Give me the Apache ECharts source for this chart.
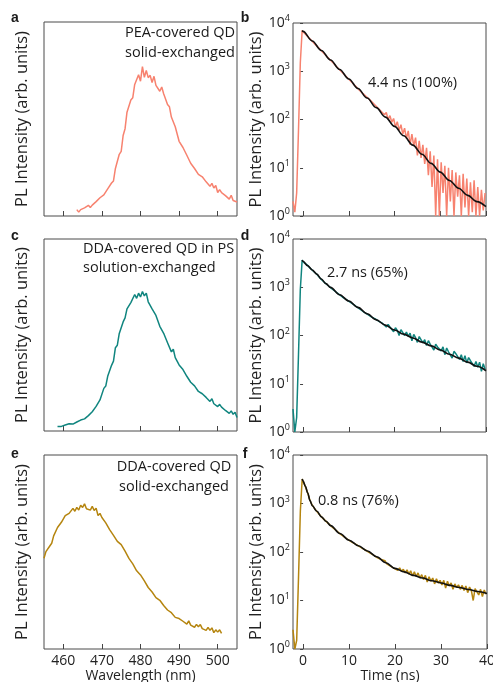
<!DOCTYPE html>
<html><head><meta charset="utf-8">
<script src="https://cdn.jsdelivr.net/npm/echarts@6/dist/echarts.min.js"></script>
<style>html,body{margin:0;padding:0;background:#fff}#c{width:493px;height:682px}</style>
</head><body><div id="c"></div>
<script>
// ---------- DATA ----------
const wavelength = [
455,455.5,456,456.5,457,457.5,458,458.5,459,459.5,
460,460.5,461,461.5,462,462.5,463,463.5,464,464.5,
465,465.5,466,466.5,467,467.5,468,468.5,469,469.5,
470,470.5,471,471.5,472,472.5,473,473.5,474,474.5,
475,475.5,476,476.5,477,477.5,478,478.5,479,479.5,
480,480.5,481,481.5,482,482.5,483,483.5,484,484.5,
485,485.5,486,486.5,487,487.5,488,488.5,489,489.5,
490,490.5,491,491.5,492,492.5,493,493.5,494,494.5,
495,495.5,496,496.5,497,497.5,498,498.5,499,499.5,
500,500.5,501,501.5,502,502.5,503,503.5,504,504.5,
505];
const spectrumA = [
null,null,null,null,null,null,null,null,null,null,
null,null,null,null,null,null,null,0.033,0.020,0.033,
0.024,0.042,0.038,0.055,0.044,0.056,0.052,0.074,0.071,0.094,
0.085,0.109,0.115,0.140,0.145,0.170,0.181,0.245,0.248,0.318,
0.333,0.415,0.450,0.535,0.540,0.598,0.610,0.678,0.680,0.728,
0.695,0.770,0.715,0.750,0.713,0.725,0.688,0.720,0.673,0.683,
0.643,0.665,0.630,0.640,0.575,0.563,0.510,0.518,0.460,0.463,
0.385,0.395,0.353,0.352,0.313,0.303,0.272,0.282,0.245,0.245,
0.215,0.224,0.202,0.210,0.176,0.177,0.153,0.168,0.144,0.157,
0.121,0.136,0.120,0.130,0.105,0.109,0.087,0.107,0.080,0.090,
0.072];
const spectrumC = [
null,null,null,null,null,null,null,0.024,0.014,0.024,
0.017,0.031,0.026,0.038,0.028,0.036,0.032,0.047,0.042,0.057,
0.047,0.063,0.063,0.080,0.081,0.100,0.103,0.128,0.132,0.162,
0.167,0.222,0.234,0.285,0.288,0.342,0.364,0.434,0.447,0.508,
0.505,0.568,0.589,0.636,0.635,0.669,0.662,0.711,0.691,0.718,
0.698,0.726,0.704,0.718,0.673,0.672,0.636,0.646,0.602,0.606,
0.545,0.548,0.509,0.508,0.460,0.454,0.412,0.426,0.382,0.376,
0.344,0.345,0.320,0.318,0.285,0.279,0.254,0.260,0.235,0.240,
0.206,0.213,0.194,0.200,0.175,0.175,0.154,0.168,0.142,0.148,
0.127,0.139,0.124,0.132,0.107,0.109,0.092,0.105,0.087,0.098,
0.070];
const spectrumE = [
0.468,0.502,0.503,0.531,0.545,0.583,0.590,0.626,0.620,0.653,
0.658,0.687,0.679,0.699,0.692,0.725,0.710,0.730,0.716,0.741,
0.730,0.748,0.723,0.732,0.716,0.735,0.714,0.726,0.688,0.699,
0.678,0.682,0.650,0.646,0.615,0.624,0.586,0.587,0.555,0.564,
0.538,0.539,0.504,0.495,0.467,0.468,0.439,0.441,0.403,0.405,
0.382,0.382,0.351,0.344,0.317,0.325,0.294,0.293,0.265,0.271,
0.251,0.254,0.224,0.222,0.201,0.209,0.187,0.194,0.163,0.173,
0.157,0.165,0.143,0.146,0.128,0.145,0.123,0.131,0.112,0.127,
0.115,0.126,0.105,0.110,0.096,0.112,0.096,0.109,0.084,0.099,
0.087,0.099,0.081,null,null,null,null,null,null,null,
null];

const decayTime = [
-2.2,-1.8,-1.4,-1.0,-0.6,-0.2,0.2,0.6,1.0,1.4,
1.8,2.2,2.6,3.0,3.4,3.8,4.2,4.6,5.0,5.4,
5.8,6.2,6.6,7.0,7.4,7.8,8.2,8.6,9.0,9.4,
9.8,10.2,10.6,11.0,11.4,11.8,12.2,12.6,13.0,13.4,
13.8,14.2,14.6,15.0,15.4,15.8,16.2,16.6,17.0,17.4,
17.8,18.2,18.6,19.0,19.4,19.8,20.2,20.6,21.0,21.4,
21.8,22.2,22.6,23.0,23.4,23.8,24.2,24.6,25.0,25.4,
25.8,26.2,26.6,27.0,27.4,27.8,28.2,28.6,29.0,29.4,
29.8,30.2,30.6,31.0,31.4,31.8,32.2,32.6,33.0,33.4,
33.8,34.2,34.6,35.0,35.4,35.8,36.2,36.6,37.0,37.4,
37.8,38.2,38.6,39.0,39.4,39.8];
const decayB = [
2,1.2,3,60,1500,7000,6300,5900,5250,4900,
4400,4100,3650,3420,3050,2850,2540,2380,2120,1990,
1770,1660,1480,1390,1230,1160,1025,965,860,805,
715,675,598,565,500,470,415,395,352,330,
300,278,255,245,215,205,180,176,150,148,
125,140,100,120,88,105,70,90,60,78,
50,66,40,58,30,50,28,42,18,36,
16,30,12,26,7,22,4,18,1,15,
1,13,3,11,1,10,2,9,1,8,
2.5,7,1,7.5,1.5,6,1,5,1.2,5.5,
1,4,1,3.5,1.3,3];
const decayD = [
3,1,2,40,900,3650,3250,3000,2830,2560,
2400,2170,2040,1860,1700,1510,1410,1280,1200,1100,
1040,950,905,825,785,718,690,628,610,560,
545,495,480,440,428,388,378,342,334,300,
305,270,280,240,255,220,228,196,205,178,
185,150,170,150,160,120,145,128,100,132,
125,100,118,96,112,78,105,90,72,95,
88,70,82,62,78,66,72,50,66,58,
62,48,58,40,55,46,50,34,47,42,
42,32,40,29,38,27,35,30,33,23,
29,22,28,18,26,20];
const decayF = [
2.5,1,1.5,30,700,3200,2600,2100,1650,1240,
990,860,760,695,615,562,505,470,428,398,
362,340,310,292,267,251,230,220,203,194,
179,172,160,155,145,140,130,127,117,115,
106,103,95,93,85,83,76,75,70,66,
66,57,60,51,55,46,50,42,47,40,
44,37,43,35,41,32,39,31,37,29,
34,27,33,24,31,25,29,22,28,23,
26,21,26,18,25,20,23,17,22,18.5,
21,17,20.5,16,20,14.5,19,16,10,17.5,
17.5,13,17,12,16.5,13.5];

const fitTimeB = [-0.2,0,2,4,6,8,10,12,14,16,18,20,22,24,26,28,30,32,34,36,38,40];
const fitB = [7000,6690,4247,2696,1711,1086,690,438,278,176,112,71.9,45.9,29.5,19.0,12.3,8.13,5.46,3.76,2.68,1.99,1.56];
const fitTimeD = [-0.2,0,1,2,3,4,5,6,8,10,12,14,16,18,20,22,24,26,28,30,32,34,36,38,40];
const fitD = [3650,3450,2800,2280,1870,1480,1190,995,700,519,383,282,211,164,130,107,89,73,61,50,41,34,28,23,18.6];
const fitTimeF = [-0.2,0,0.5,1,1.5,2,3,4,5,6,8,10,12,14,16,18,20,22,24,26,28,30,32,34,36,38,40];
const fitF = [3200,2900,2250,1650,1150,900,690,530,430,350,240,175,135,105,80,60,46,39,33,29,25.5,23,20.5,18.5,16.8,15.3,14];

const wavelengthTicks = [460,470,480,490,500];
const timeTicks = [0,10,20,30,40];
const yAxisTitle = 'PL Intensity (arb. units)';
const panelLetters = ['a','b','c','d','e','f'];
const spectrumNotes = [['PEA-covered QD','solid-exchanged'],['DDA-covered QD in PS','solution-exchanged'],['DDA-covered QD','solid-exchanged']];
const lifetimeNotes = ['4.4 ns (100%)','2.7 ns (65%)','0.8 ns (76%)'];

// ---------- CHART ----------
const FONT = "'Open Sans', sans-serif";
const COLORS = ['#F7826F', '#10857F', '#B5850F'];
const zip = (xs, ys) => xs.map((x, i) => [x, ys[i]]).filter(p => p[1] !== null && p[1] !== undefined);

const grids = [
  {left:44, top:22, width:193, height:194},
  {left:293, top:23, width:193, height:193},
  {left:44, top:239, width:193, height:192},
  {left:293, top:239, width:193, height:193},
  {left:44, top:455, width:193, height:194},
  {left:293, top:455, width:194, height:194}
].map(g => Object.assign(g, {show:true, borderColor:'#4a4a4a', borderWidth:1, backgroundColor:'rgba(0,0,0,0)', containLabel:false, outerBoundsMode:'none'}));

const xAxis = [], yAxis = [], series = [];
for (let i = 0; i < 6; i++) {
  const left = i % 2 === 0;
  const bottom = i >= 4;
  const ticks = left ? wavelengthTicks : timeTicks;
  xAxis.push({
    gridIndex:i, type:'value',
    min: left ? 455 : -2.2, max: left ? 505 : 40,
    axisLine:{show:false},
    axisTick:{show:true, inside:true, length:5, customValues:ticks, lineStyle:{color:'#444', width:1}},
    axisLabel:{show:bottom, customValues:ticks, fontFamily:FONT, fontSize:14, color:'#222', margin:5},
    splitLine:{show:false},
    name: bottom ? (left ? 'Wavelength (nm)' : 'Time (ns)') : '',
    nameLocation:'middle', nameGap:20,
    nameTextStyle:{fontFamily:FONT, fontSize:14, color:'#222'}
  });
  if (left) {
    yAxis.push({
      gridIndex:i, type:'value', min:0, max:1,
      axisLine:{show:false}, axisTick:{show:false}, axisLabel:{show:false}, splitLine:{show:false},
      name:yAxisTitle, nameLocation:'middle', nameGap:13, nameRotate:90,
      nameTextStyle:{fontFamily:FONT, fontSize:16.5, color:'#222'}
    });
  } else {
    yAxis.push({
      gridIndex:i, type:'log', logBase:10, min:1, max:10000,
      axisLine:{show:false},
      axisTick:{show:true, inside:false, length:3, lineStyle:{color:'#444'}},
      axisLabel:{
        margin:3, color:'#222',
        formatter: v => '{b|10}{s|' + Math.round(Math.log10(v)) + '}',
        rich:{b:{fontFamily:FONT, fontSize:14, color:'#222'}, s:{fontFamily:FONT, fontSize:9, color:'#222', padding:[0,0,9,0]}}
      },
      splitLine:{show:false},
      name:yAxisTitle, nameLocation:'middle', nameGap:25, nameRotate:90,
      nameTextStyle:{fontFamily:FONT, fontSize:16.5, color:'#222'}
    });
  }
}

const spectra = [spectrumA, spectrumC, spectrumE];
spectra.forEach((s, j) => {
  series.push({type:'line', xAxisIndex:2*j, yAxisIndex:2*j, data:zip(wavelength, s),
    showSymbol:false, silent:true, lineStyle:{color:COLORS[j], width:1.5}});
});
const decays = [decayB, decayD, decayF];
const fits = [[fitTimeB, fitB], [fitTimeD, fitD], [fitTimeF, fitF]];
decays.forEach((d, j) => {
  series.push({type:'line', xAxisIndex:2*j+1, yAxisIndex:2*j+1, data:zip(decayTime, d),
    showSymbol:false, silent:true, clip:true, lineStyle:{color:COLORS[j], width:1.5}});
  series.push({type:'line', xAxisIndex:2*j+1, yAxisIndex:2*j+1, data:zip(fits[j][0], fits[j][1]),
    showSymbol:false, silent:true, clip:true, smooth:0.35, smoothMonotone:'x', lineStyle:{color:'#111', width:1.6}});
});

const txt = (x, y, text, font, align) => ({
  type:'text', silent:true, z:100,
  style:{x, y, text, font, fill:'#1a1a1a', textAlign:align, align:align, textVerticalAlign:'middle', verticalAlign:'middle'}
});
const letterPos = [[15,18],[245,18],[15,236],[245,236],[15,454],[245,454]];
const graphic = [];
panelLetters.forEach((l, i) => graphic.push(txt(letterPos[i][0], letterPos[i][1], l, "bold 14px Arial, 'Liberation Sans', sans-serif", 'center')));
const noteFont = "14.5px 'Open Sans', sans-serif";
graphic.push(txt(180, 33, spectrumNotes[0][0], noteFont, 'center'));
graphic.push(txt(180, 53, spectrumNotes[0][1], noteFont, 'center'));
graphic.push(txt(83, 249, spectrumNotes[1][0], noteFont, 'left'));
graphic.push(txt(83, 268, spectrumNotes[1][1], noteFont, 'left'));
graphic.push(txt(174, 467, spectrumNotes[2][0], noteFont, 'center'));
graphic.push(txt(174, 487, spectrumNotes[2][1], noteFont, 'center'));
graphic.push(txt(368, 83, lifetimeNotes[0], noteFont, 'left'));
graphic.push(txt(327, 273, lifetimeNotes[1], noteFont, 'left'));
graphic.push(txt(318, 501, lifetimeNotes[2], noteFont, 'left'));

const chart = echarts.init(document.getElementById('c'), null, {renderer:'canvas'});
chart.setOption({animation:false, backgroundColor:'#fff', grid:grids, xAxis, yAxis, series, graphic});
</script></body></html>
